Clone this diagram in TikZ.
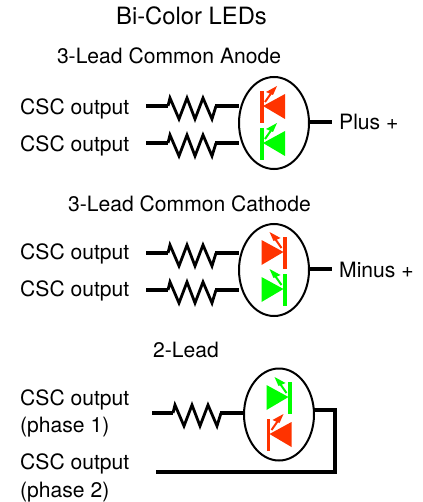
\documentclass[tikz,border=0pt]{standalone}
\usepackage{fontspec}
\setmainfont{TeX Gyre Heros}
\usepackage{xcolor}
\usetikzlibrary{shapes.geometric}
\definecolor{ledRed}{rgb}{1,0.2,0}
\definecolor{ledGreen}{rgb}{0,1,0}
\tikzset{
    label text/.style={font=\fontsize{21.1}{25}\selectfont, inner sep=0pt, anchor=base west},
    head text/.style={font=\fontsize{21.1}{25}\selectfont, inner sep=0pt, anchor=base},
    wire/.style={line width=3.2pt},
    package/.style={draw, ellipse, line width=2pt, minimum width=70pt, minimum height=92pt, inner sep=0pt, outer sep=0pt},
    resistor/.pic={
        \draw[line width=2.8pt] (0,0) -- (2,-8) -- (11,13) -- (19,-8) -- (27,13) -- (35,-8) -- (44,13) -- (48,0);
        \coordinate (-in) at (0,0);
        \coordinate (-out) at (47,0);
    },
    led/.pic={
        \fill (-3,-17) rectangle (0.5,15);
        \fill (0,-2) -- (22,-14) -- (22,11) -- cycle;
        \draw[line width=2pt] (2,-6) -- (9,-16);
        \fill (14,-22) -- (3,-16) -- (10,-13) -- cycle;
    },
}
\begin{document}
\begin{tikzpicture}[x=1pt,y=-1pt]
    \useasboundingbox (0,0) rectangle (422,502);

    % draw titles
    \node[head text, font=\fontsize{23.8}{28}\selectfont] (title) at (191.5,25) {Bi-Color LEDs};
    \node[head text] (titleAnode) at (169,64) {3-Lead Common Anode};
    \node[head text] (titleCathode) at (189.5,212) {3-Lead Common Cathode};
    \node[head text] (titleTwo) at (186,357) {2-Lead};

    % draw common anode
    \node[label text] (cscA) at (20,115) {CSC output};
    \node[label text] (cscB) at (20,152) {CSC output};
    \node[label text] (plus) at (339,130) {Plus +};
    \node[package] (ledAnode) at (274,123) {};
    \coordinate (inA) at (146,106);
    \coordinate (inB) at (146,143);
    \coordinate (outAnode) at (332,122);
    \path (168,106) pic (resA) {resistor};
    \path (168,143) pic (resB) {resistor};
    \draw[wire] (inA) -- (resA-in);
    \draw[wire] (inB) -- (resB-in);
    \draw[wire] (resA-out) -- (ledAnode.west |- resA-out);
    \draw[wire] (resB-out) -- (ledAnode.west |- resB-out);
    \draw[wire] (ledAnode.east |- outAnode) -- (outAnode);
    \path[color=ledRed] (263,108) pic {led};
    \path[color=ledGreen] (263,145) pic {led};

    % draw common cathode
    \node[label text] (cscC) at (20,259) {CSC output};
    \node[label text] (cscD) at (20,296) {CSC output};
    \node[label text] (minus) at (339,277) {Minus +};
    \node[package] (ledCathode) at (274,270) {};
    \coordinate (inC) at (146,253);
    \coordinate (inD) at (146,290);
    \coordinate (outCathode) at (332,269);
    \path (168,253) pic (resC) {resistor};
    \path (168,290) pic (resD) {resistor};
    \draw[wire] (inC) -- (resC-in);
    \draw[wire] (inD) -- (resD-in);
    \draw[wire] (resC-out) -- (ledCathode.west |- resC-out);
    \draw[wire] (resD-out) -- (ledCathode.west |- resD-out);
    \draw[wire] (ledCathode.east |- outCathode) -- (outCathode);
    \path[color=ledRed] (283.5,254) pic[xscale=-1] {led};
    \path[color=ledGreen] (283.5,291) pic[xscale=-1] {led};

    % draw 2-lead
    \node[label text] (cscE) at (20,405) {CSC output};
    \node[label text] (phaseA) at (20,432) {(phase 1)};
    \node[label text] (cscF) at (20,469) {CSC output};
    \node[label text] (phaseB) at (20,497) {(phase 2)};
    \node[package] (ledTwo) at (279,414.5) {};
    \coordinate (inE) at (152,413);
    \coordinate (inF) at (156,472);
    \coordinate (corner) at (335,472);
    \path (173,413) pic (resE) {resistor};
    \draw[wire] (inE) -- (resE-in);
    \draw[wire] (resE-out) -- (ledTwo.west |- resE-out);
    \draw[wire, line width=3.6pt] (ledTwo.east |- 0,410) -| (corner) -- (inF);
    \path[color=ledGreen] (288.5,399) pic[xscale=-1] {led};
    \path[color=ledRed] (269.5,436) pic {led};
\end{tikzpicture}
\end{document}
